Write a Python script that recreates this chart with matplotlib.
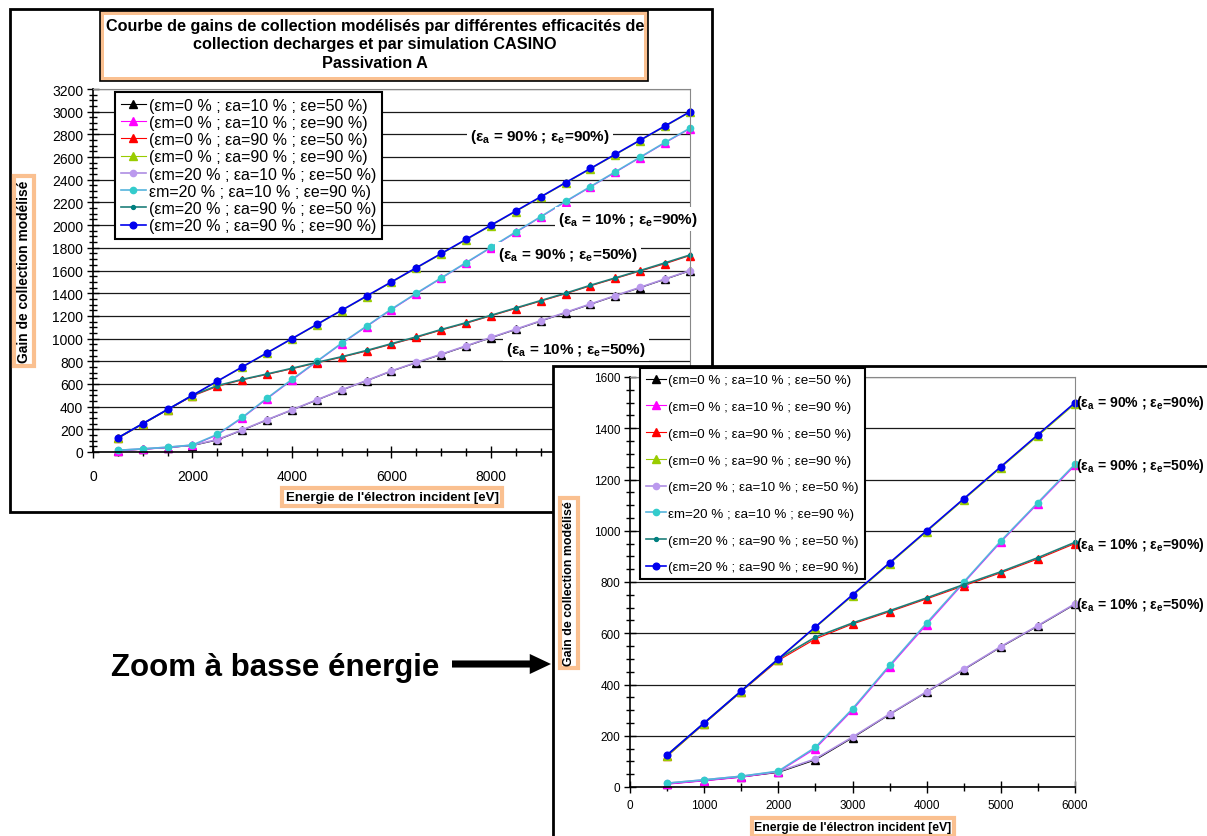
import matplotlib
matplotlib.use("Agg")
import matplotlib.pyplot as plt
from matplotlib import font_manager
from matplotlib.patches import Rectangle, FancyArrowPatch
from matplotlib.ticker import MultipleLocator

# Energie de l'electron incident (eV)
energie = [500, 1000, 1500, 2000, 2500, 3000, 3500, 4000, 4500, 5000, 5500, 6000,
           6500, 7000, 7500, 8000, 8500, 9000, 9500, 10000, 10500, 11000, 11500, 12000]

# gains modelises (em=0 %)
m0_a10_e50 = [12, 25, 39, 57, 106, 192, 283, 370, 458, 546, 628, 713,
              787, 859, 933, 1007, 1080, 1154, 1228, 1302, 1376, 1449, 1523, 1597]
m0_a10_e90 = [11, 24, 38, 59, 150, 300, 470, 634, 796, 956, 1106, 1255,
              1396, 1531, 1666, 1801, 1936, 2071, 2206, 2336, 2466, 2596, 2726, 2851]
m0_a90_e50 = [120, 247, 372, 494, 578, 636, 684, 734, 785, 836, 890, 950,
              1010, 1075, 1135, 1200, 1265, 1330, 1395, 1465, 1530, 1595, 1660, 1732]
m0_a90_e90 = [120, 247, 372, 497, 622, 746, 871, 996, 1121, 1246, 1370, 1495,
              1620, 1745, 1870, 1995, 2120, 2245, 2370, 2495, 2620, 2745, 2870, 2995]
# gains modelises (em=20 %)
m20_a10_e50 = [15, 28, 42, 60, 110, 195, 285, 372, 460, 548, 630, 715,
               790, 862, 936, 1010, 1083, 1157, 1231, 1305, 1379, 1452, 1526, 1600]
m20_a10_e90 = [15, 28, 42, 62, 155, 305, 475, 640, 800, 960, 1110, 1260,
               1400, 1535, 1670, 1805, 1940, 2075, 2210, 2340, 2470, 2600, 2730, 2855]
m20_a90_e50 = [125, 250, 375, 500, 585, 640, 688, 738, 790, 840, 895, 955,
               1015, 1080, 1140, 1205, 1270, 1335, 1400, 1470, 1535, 1600, 1668, 1737]
m20_a90_e90 = [125, 250, 375, 500, 625, 750, 875, 1000, 1125, 1250, 1375, 1500,
               1625, 1750, 1875, 2000, 2125, 2250, 2375, 2500, 2625, 2750, 2875, 3000]

noms = ["(εm=0 % ; εa=10 % ; εe=50 %)",
        "(εm=0 % ; εa=10 % ; εe=90 %)",
        "(εm=0 % ; εa=90 % ; εe=50 %)",
        "(εm=0 % ; εa=90 % ; εe=90 %)",
        "(εm=20 % ; εa=10 % ; εe=50 %)",
        "εm=20 % ; εa=10 % ; εe=90 %)",
        "(εm=20 % ; εa=90 % ; εe=50 %)",
        "(εm=20 % ; εa=90 % ; εe=90 %)"]
series = [m0_a10_e50, m0_a10_e90, m0_a90_e50, m0_a90_e90,
          m20_a10_e50, m20_a10_e90, m20_a90_e50, m20_a90_e90]

styles = [dict(color="black", marker="^", ms=6, lw=0.8),
          dict(color="#FF00FF", marker="^", ms=6, lw=0.8),
          dict(color="#FF0000", marker="^", ms=6, lw=0.8),
          dict(color="#99CC00", marker="^", ms=6, lw=0.8),
          dict(color="#AE8EE3", marker="o", ms=4.5, mfc="#BB99EE", mec="#BB99EE", lw=1.2),
          dict(color="#55B4DD", marker="o", ms=4.5, mfc="#33CCCC", mec="#33CCCC", lw=1.2),
          dict(color="#1F7F7A", marker="o", ms=2.8, mfc="#008080", mec="#008080", lw=1.2),
          dict(color="#0000EE", marker="o", ms=4.8, lw=1.2)]

main_ticks = [0, 2000, 4000, 6000, 8000, 10000, 12000]
main_ticklabels = ["0", "2000", "4000", "6000", "8000", "", ""]  # 10000 et 12000 sous le zoom

labels_main = [("(ε$_{\\mathbf{a}}$ = 90% ; ε$_{\\mathbf{e}}$=90%)", 470, 137),
               ("(ε$_{\\mathbf{a}}$ = 10% ; ε$_{\\mathbf{e}}$=90%)", 558, 220),
               ("(ε$_{\\mathbf{a}}$ = 90% ; ε$_{\\mathbf{e}}$=50%)", 498, 255),
               ("(ε$_{\\mathbf{a}}$ = 10% ; ε$_{\\mathbf{e}}$=50%)", 506, 350)]
labels_zoom = [("(ε$_{\\mathbf{a}}$ = 90% ; ε$_{\\mathbf{e}}$=90%)", 1076, 403),
               ("(ε$_{\\mathbf{a}}$ = 90% ; ε$_{\\mathbf{e}}$=50%)", 1076, 466),
               ("(ε$_{\\mathbf{a}}$ = 10% ; ε$_{\\mathbf{e}}$=90%)", 1076, 545),
               ("(ε$_{\\mathbf{a}}$ = 10% ; ε$_{\\mathbf{e}}$=50%)", 1076, 605)]

W, H = 1207, 837
PEACH = "#FAC090"


def fx(x):
    return x / W


def fy(y):
    return 1 - y / H


installed = {f.name for f in font_manager.fontManager.ttflist}
narrow = "Liberation Sans Narrow" if "Liberation Sans Narrow" in installed else "Liberation Sans"

plt.rcParams["font.family"] = ["Liberation Sans", "DejaVu Sans"]
plt.rcParams["mathtext.fontset"] = "custom"
plt.rcParams["mathtext.rm"] = "Liberation Sans"
plt.rcParams["mathtext.bf"] = "Liberation Sans:bold"

fig = plt.figure(figsize=(W / 100, H / 100), dpi=100)


def draw_series(ax, n):
    for y, nom, st in zip(series, noms, styles):
        ax.plot(energie[:n], y[:n], label=nom, clip_on=False, **st)


def style_axes(ax, tick_size):
    ax.set_facecolor("white")
    ax.grid(axis="y", which="major", color="#1a1a1a", lw=0.9)
    ax.set_axisbelow(True)
    for s in ("top", "right"):
        ax.spines[s].set_color("#888888")
    for s in ("left", "bottom"):
        ax.spines[s].set_color("black")
        ax.spines[s].set_linewidth(1.2)
    ax.tick_params(which="major", direction="inout", length=8, width=1, labelsize=tick_size)
    ax.tick_params(which="minor", direction="inout", length=6, width=1)
    ax.tick_params(axis="y", pad=3)


# ---- cadre du graphique principal
fig.add_artist(Rectangle((fx(10), fy(513)), fx(712) - fx(10), fy(10) - fy(513),
                         transform=fig.transFigure, fc="white", ec="black", lw=2, zorder=0))

ax = fig.add_axes([fx(93), fy(453), fx(690) - fx(93), fy(90) - fy(453)], zorder=1)
draw_series(ax, len(energie))
ax.set_xlim(0, 12000)
ax.set_ylim(0, 3200)
ax.set_xticks(main_ticks, main_ticklabels)
ax.xaxis.set_minor_locator(MultipleLocator(500))
ax.yaxis.set_major_locator(MultipleLocator(200))
ax.yaxis.set_minor_locator(MultipleLocator(50))
style_axes(ax, 10)
ax.tick_params(axis="x", pad=8)
ax.legend(loc="upper left", bbox_to_anchor=(fx(115), fy(93)), bbox_transform=fig.transFigure,
          fontsize=11.5, labelspacing=0.14, handlelength=1.6, handletextpad=0.2,
          borderpad=0.35, borderaxespad=0, fancybox=False, framealpha=1,
          edgecolor="black").get_frame().set_linewidth(1.5)

# titre encadre
fig.add_artist(Rectangle((fx(100), fy(82)), fx(648) - fx(100), fy(12) - fy(82),
                         transform=fig.transFigure, fc=PEACH, ec="black", lw=1.2, zorder=2))
fig.add_artist(Rectangle((fx(104), fy(78)), fx(644) - fx(104), fy(16) - fy(78),
                         transform=fig.transFigure, fc="white", ec="none", zorder=2))
fig.text(fx(375), fy(45), "Courbe de gains de collection modélisés par différentes efficacités de\n"
         "collection decharges et par simulation CASINO\nPassivation A",
         ha="center", va="center", fontsize=11.7, fontweight="bold", family=narrow,
         linespacing=1.3, zorder=3)

fig.text(fx(24), fy(272), "Gain de collection modélisé", rotation=90, ha="center", va="center",
         fontsize=9.9, fontweight="bold", family=narrow, zorder=3,
         bbox=dict(fc="white", ec=PEACH, lw=3, pad=2.5))
fig.text(fx(392), fy(498), "Energie de l'électron incident [eV]", ha="center", va="center",
         fontsize=9.5, fontweight="bold", family=narrow, zorder=3,
         bbox=dict(fc="white", ec=PEACH, lw=3, pad=2.5))

for txt, x, y in labels_main:
    fig.text(fx(x), fy(y), txt, ha="left", va="center", fontsize=11, fontweight="bold",
             zorder=3, bbox=dict(fc="white", ec="none", pad=2))

# ---- zoom a basse energie
fig.add_artist(Rectangle((fx(553), fy(845)), fx(1215) - fx(553), fy(367) - fy(845),
                         transform=fig.transFigure, fc="white", ec="black", lw=2, zorder=5))

ax2 = fig.add_axes([fx(630), fy(788), fx(1075) - fx(630), fy(378) - fy(788)], zorder=6)
draw_series(ax2, 12)
ax2.set_xlim(0, 6000)
ax2.set_ylim(0, 1600)
ax2.xaxis.set_major_locator(MultipleLocator(1000))
ax2.xaxis.set_minor_locator(MultipleLocator(500))
ax2.yaxis.set_major_locator(MultipleLocator(200))
ax2.yaxis.set_minor_locator(MultipleLocator(50))
style_axes(ax2, 8.5)
ax2.tick_params(axis="x", pad=5)
ax2.legend(loc="upper left", bbox_to_anchor=(fx(640), fy(369)), bbox_transform=fig.transFigure,
           fontsize=9.6, labelspacing=1.08, handlelength=1.5, handletextpad=0.15,
           borderpad=0.45, borderaxespad=0, fancybox=False, framealpha=1,
           edgecolor="black").get_frame().set_linewidth(1.5)

fig.text(fx(569), fy(584), "Gain de collection modélisé", rotation=90, ha="center", va="center",
         fontsize=8.9, fontweight="bold", family=narrow, zorder=7,
         bbox=dict(fc="white", ec=PEACH, lw=3, pad=2))
fig.text(fx(853), fy(828), "Energie de l'électron incident [eV]", ha="center", va="center",
         fontsize=8.8, fontweight="bold", family=narrow, zorder=7,
         bbox=dict(fc="white", ec=PEACH, lw=3, pad=2))

for txt, x, y in labels_zoom:
    fig.text(fx(x), fy(y), txt, ha="left", va="center", fontsize=10.1, fontweight="bold",
             family=narrow, zorder=7)

fig.text(fx(275), fy(668), "Zoom à basse énergie", ha="center", va="center",
         fontsize=22.5, fontweight="bold", zorder=7)
fig.add_artist(FancyArrowPatch((fx(452), fy(665)), (fx(551), fy(665)), transform=fig.transFigure,
                               arrowstyle="simple,head_length=0.9,head_width=0.85,tail_width=0.3",
                               mutation_scale=17, color="black", lw=0, shrinkA=0, shrinkB=0,
                               zorder=7))

fig.savefig("out.png", dpi=100)
